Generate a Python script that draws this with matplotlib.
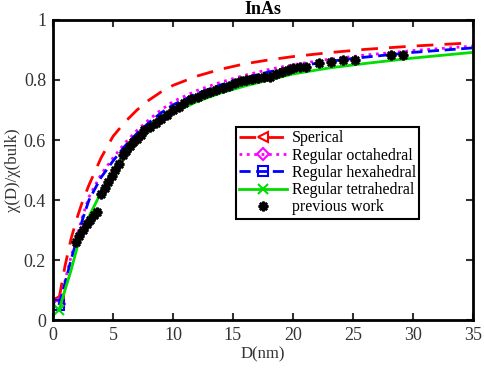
import numpy as np
import matplotlib
matplotlib.use('Agg')
import matplotlib.pyplot as plt

plt.rcParams['font.family'] = ['Liberation Serif', 'DejaVu Serif']

# diameter grid of the model curves (nm)
D = [0.5, 1, 1.5, 2, 2.5, 3, 4, 5, 6, 7, 8, 9, 10, 12, 14, 16, 18, 20, 23, 26, 30, 35]

sperical = [0.07, 0.18, 0.27, 0.34, 0.40, 0.45, 0.54, 0.612, 0.66, 0.70, 0.733, 0.76, 0.782,
            0.813, 0.836, 0.854, 0.867, 0.878, 0.891, 0.902, 0.913, 0.924]
octahedral = [0.055, 0.13, 0.21, 0.28, 0.35, 0.41, 0.485, 0.54, 0.59, 0.632, 0.668, 0.70, 0.728,
              0.765, 0.793, 0.816, 0.835, 0.851, 0.869, 0.883, 0.898, 0.913]
hexahedral = [0.05, 0.123, 0.20, 0.27, 0.34, 0.40, 0.475, 0.53, 0.58, 0.622, 0.658, 0.69, 0.717,
              0.755, 0.784, 0.807, 0.827, 0.843, 0.862, 0.876, 0.892, 0.907]
tetrahedral = [0.033, 0.10, 0.165, 0.24, 0.295, 0.345, 0.425, 0.49, 0.545, 0.59, 0.628, 0.66, 0.69,
               0.728, 0.757, 0.78, 0.80, 0.82, 0.84, 0.855, 0.873, 0.892]

# previous work
D_prev = [1.9, 2.2, 2.5, 2.8, 3.1, 3.4, 3.7, 4.0, 4.3, 4.6, 4.9, 5.2, 5.5, 5.8, 6.1, 6.4, 6.7,
          7.0, 7.3, 7.6, 8.1, 8.6, 9.0, 9.5, 10.0, 10.5, 10.9, 11.5, 12.1, 12.6, 13.1, 13.6,
          14.2, 14.7, 15.2, 15.7, 16.1, 16.6, 17.1, 17.6, 18.1, 18.6, 19.1, 19.6, 20.0, 20.6,
          21.1, 22.2, 23.2, 24.2, 25.2, 28.2, 29.2]
chi_prev = [0.26, 0.28, 0.30, 0.32, 0.335, 0.35, 0.36, 0.42, 0.44, 0.46, 0.48, 0.50, 0.52, 0.55,
            0.565, 0.58, 0.595, 0.605, 0.617, 0.633, 0.645, 0.656, 0.67, 0.685, 0.70, 0.71,
            0.722, 0.735, 0.744, 0.752, 0.761, 0.766, 0.772, 0.78, 0.789, 0.795, 0.80, 0.803,
            0.806, 0.809, 0.811, 0.82, 0.828, 0.834, 0.839, 0.842, 0.844, 0.856, 0.861, 0.867,
            0.867, 0.883, 0.883]

fig = plt.figure(figsize=(4.84, 3.70), dpi=100)
ax = fig.add_axes([0.1095, 0.135, 0.8675, 0.811])

ax.plot(D, sperical, color='red', ls=(0, (6, 4)), lw=2, marker='<', mfc='none', ms=7, mew=1.5,
        markevery=[0], label='Sperical')
ax.plot(D, octahedral, color='magenta', ls=':', lw=2, marker='D', mfc='none', ms=6, mew=1.5,
        markevery=[0], label='Regular octahedral')
ax.plot(D, hexahedral, color='blue', ls=(0, (4, 2)), lw=2, marker='s', mfc='none', ms=7, mew=1.5,
        markevery=[0], label='Regular hexahedral')
ax.plot(D, tetrahedral, color='#00dd00', ls='-', lw=2, marker='x', ms=7, mew=1.5,
        markevery=[0], label='Regular tetrahedral')
ax.plot(D_prev, chi_prev, ls='none', marker=(8, 2, 0), color='black', ms=7, mew=1.8,
        label='previous work')

ax.set_xlim(0, 35)
ax.set_ylim(0, 1)
ax.set_xticks([0, 5, 10, 15, 20, 25, 30, 35])
ax.set_yticks([0, 0.2, 0.4, 0.6, 0.8, 1])
ax.set_yticklabels(['0', '0.2', '0.4', '0.6', '0.8', '1'])
ax.tick_params(direction='in', top=True, right=True, width=1.5, length=5, pad=5,
               labelsize=13, colors='#333333', labelcolor='#333333')
for s in ax.spines.values():
    s.set_linewidth(2)

ax.set_xlabel('D(nm)', fontsize=12, color='#333333', labelpad=2)
ax.set_ylabel('χ(D)/χ(bulk)', fontsize=12, color='#333333', labelpad=2)
ax.set_title('InAs', fontsize=13, fontweight='bold', pad=4)

leg = ax.legend(loc='upper left', bbox_to_anchor=(0.436, 0.643),
                numpoints=1, fontsize=11.5, handlelength=3.0, handletextpad=0.3,
                borderpad=0.2, labelspacing=0.08, fancybox=False, framealpha=1,
                edgecolor='black', borderaxespad=0)
leg.get_frame().set_linewidth(1.5)

fig.savefig('out.png', dpi=100)
